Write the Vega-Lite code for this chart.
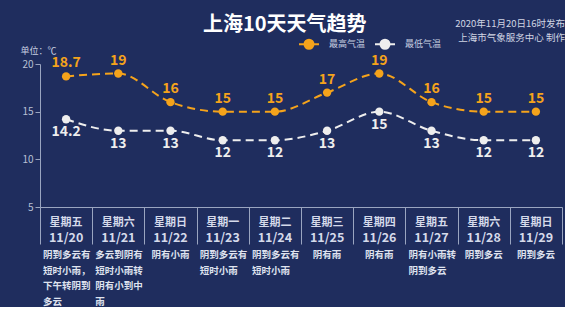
{
  "$schema": "https://vega.github.io/schema/vega-lite/v6.json",
  "background": "#1f2d5e",
  "padding": {"left": 20, "top": 15, "right": 0, "bottom": 0},
  "title": {"text": "上海10天天气趋势", "anchor": "start", "dx": 183, "offset": -16, "fontSize": 20, "fontWeight": "bold", "color": "#ffffff", "font": "Noto Sans CJK SC"},
  "config": {"view": {"stroke": null}, "font": "Noto Sans CJK SC"},
  "spacing": 0,
  "bounds": "flush",
  "datasets": {
    "temps": [
      {"date": "11/20", "series": "最高气温", "temp": 18.7},
      {"date": "11/21", "series": "最高气温", "temp": 19},
      {"date": "11/22", "series": "最高气温", "temp": 16},
      {"date": "11/23", "series": "最高气温", "temp": 15},
      {"date": "11/24", "series": "最高气温", "temp": 15},
      {"date": "11/25", "series": "最高气温", "temp": 17},
      {"date": "11/26", "series": "最高气温", "temp": 19},
      {"date": "11/27", "series": "最高气温", "temp": 16},
      {"date": "11/28", "series": "最高气温", "temp": 15},
      {"date": "11/29", "series": "最高气温", "temp": 15},
      {"date": "11/20", "series": "最低气温", "temp": 14.2},
      {"date": "11/21", "series": "最低气温", "temp": 13},
      {"date": "11/22", "series": "最低气温", "temp": 13},
      {"date": "11/23", "series": "最低气温", "temp": 12},
      {"date": "11/24", "series": "最低气温", "temp": 12},
      {"date": "11/25", "series": "最低气温", "temp": 13},
      {"date": "11/26", "series": "最低气温", "temp": 15},
      {"date": "11/27", "series": "最低气温", "temp": 13},
      {"date": "11/28", "series": "最低气温", "temp": 12},
      {"date": "11/29", "series": "最低气温", "temp": 12}
    ],
    "days": [
      {"date": "11/20", "week": "星期五"},
      {"date": "11/21", "week": "星期六"},
      {"date": "11/22", "week": "星期日"},
      {"date": "11/23", "week": "星期一"},
      {"date": "11/24", "week": "星期二"},
      {"date": "11/25", "week": "星期三"},
      {"date": "11/26", "week": "星期四"},
      {"date": "11/27", "week": "星期五"},
      {"date": "11/28", "week": "星期六"},
      {"date": "11/29", "week": "星期日"}
    ],
    "desc": [
      {"date": "11/20", "line": 1, "block": "multi", "text": "阴到多云有"},
      {"date": "11/20", "line": 2, "block": "multi", "text": "短时小雨，"},
      {"date": "11/20", "line": 3, "block": "multi", "text": "下午转阴到"},
      {"date": "11/20", "line": 4, "block": "multi", "text": "多云"},
      {"date": "11/21", "line": 1, "block": "multi", "text": "多云到阴有"},
      {"date": "11/21", "line": 2, "block": "multi", "text": "短时小雨转"},
      {"date": "11/21", "line": 3, "block": "multi", "text": "阴有小到中"},
      {"date": "11/21", "line": 4, "block": "multi", "text": "雨"},
      {"date": "11/22", "line": 1, "block": "single", "text": "阴有小雨"},
      {"date": "11/23", "line": 1, "block": "multi", "text": "阴到多云有"},
      {"date": "11/23", "line": 2, "block": "multi", "text": "短时小雨"},
      {"date": "11/24", "line": 1, "block": "multi", "text": "阴到多云有"},
      {"date": "11/24", "line": 2, "block": "multi", "text": "短时小雨"},
      {"date": "11/25", "line": 1, "block": "single", "text": "阴有雨"},
      {"date": "11/26", "line": 1, "block": "single", "text": "阴有雨"},
      {"date": "11/27", "line": 1, "block": "multi", "text": "阴有小雨转"},
      {"date": "11/27", "line": 2, "block": "multi", "text": "阴到多云"},
      {"date": "11/28", "line": 1, "block": "single", "text": "阴到多云"},
      {"date": "11/29", "line": 1, "block": "single", "text": "阴到多云"}
    ]
  },
  "vconcat": [
    {
      "width": 522,
      "height": 143,
      "title": {"text": "2020年11月20日16时发布", "subtitle": "上海市气象服务中心 制作", "anchor": "end", "dx": 3, "offset": 4, "fontSize": 9.5, "fontWeight": "normal", "color": "#d0d5e3", "subtitleFontSize": 9.5, "subtitleColor": "#d0d5e3", "subtitlePadding": 4},
      "data": {"name": "temps"},
      "encoding": {
        "x": {"field": "date", "type": "ordinal", "scale": {"type": "point", "padding": 0.5},
              "axis": {"labels": false, "ticks": false, "title": null, "domainColor": "#9aa5c0", "domainWidth": 1, "grid": false}},
        "y": {"field": "temp", "type": "quantitative", "scale": {"domain": [5, 20], "nice": false, "zero": false},
              "axis": {"values": [5, 10, 15, 20], "grid": false, "domainColor": "#9aa5c0", "tickColor": "#9aa5c0", "tickSize": 5, "labelPadding": 2, "labelColor": "#b8c0d4", "labelFontSize": 10,
                       "title": "单位：℃", "titleAngle": 0, "titleX": -20, "titleY": -14, "titleAlign": "left", "titleBaseline": "middle", "titleColor": "#c8cfe0", "titleFontSize": 9, "titleFontWeight": "normal"}}
      },
      "layer": [
        {
          "mark": {"type": "line", "strokeDash": [8, 5], "strokeWidth": 2, "interpolate": "monotone"},
          "encoding": {
            "color": {"field": "series", "type": "nominal", "scale": {"domain": ["最高气温", "最低气温"], "range": ["#f5a31b", "#eeeeee"]},
                      "legend": {"orient": "none", "legendX": 263, "legendY": -26, "direction": "horizontal", "title": null,
                                 "symbolType": "M-2,0H2M-0.9,0A0.9,0.9,0,1,1,0.9,0A0.9,0.9,0,1,1,-0.9,0", "symbolSize": 100, "symbolStrokeWidth": 2,
                                 "labelColor": "#c8cfe0", "labelFontSize": 9, "labelOffset": 14, "columnPadding": 5}}
          }
        },
        {
          "mark": {"type": "point", "filled": true, "size": 70, "opacity": 1},
          "encoding": {"color": {"field": "series", "type": "nominal"}}
        },
        {
          "transform": [{"filter": "datum.series === '最高气温'"}],
          "mark": {"type": "text", "dy": -13, "fontSize": 14, "fontWeight": "bold", "color": "#f5a31b"},
          "encoding": {"text": {"field": "temp"}}
        },
        {
          "transform": [{"filter": "datum.series === '最低气温'"}],
          "mark": {"type": "text", "dy": 13, "fontSize": 14, "fontWeight": "bold", "color": "#eeeeee"},
          "encoding": {"text": {"field": "temp"}}
        }
      ]
    },
    {
      "width": 522,
      "height": 37,
      "data": {"name": "days"},
      "encoding": {
        "x": {"field": "date", "type": "ordinal", "scale": {"type": "band", "paddingInner": 0, "paddingOuter": 0},
              "axis": {"orient": "top", "labels": false, "ticks": false, "domain": false, "title": null, "grid": true, "tickBand": "extent", "gridColor": "#9aa5c0", "gridWidth": 1}}
      },
      "layer": [
        {"mark": {"type": "text", "dy": -3, "fontSize": 11, "fontWeight": "bold", "color": "#d5daea"}, "encoding": {"text": {"field": "week"}}},
        {"mark": {"type": "text", "dy": 12.5, "fontSize": 12.5, "fontWeight": "bold", "color": "#d5daea"}, "encoding": {"text": {"field": "date"}}}
      ]
    },
    {
      "width": 522,
      "height": 63,
      "data": {"name": "desc"},
      "encoding": {
        "x": {"field": "date", "type": "ordinal", "scale": {"type": "band", "paddingInner": 0, "paddingOuter": 0}, "axis": null},
        "y": {"field": "line", "type": "ordinal", "scale": {"type": "point", "padding": 0.5}, "axis": null},
        "text": {"field": "text"}
      },
      "layer": [
        {"transform": [{"filter": "datum.block === 'multi'"}], "mark": {"type": "text", "align": "left", "dx": -23, "dy": 3, "fontSize": 9.5, "fontWeight": "bold", "color": "#dfe3ef"}},
        {"transform": [{"filter": "datum.block === 'single'"}], "mark": {"type": "text", "align": "center", "dy": 3, "fontSize": 9.5, "fontWeight": "bold", "color": "#dfe3ef"}}
      ]
    }
  ]
}
